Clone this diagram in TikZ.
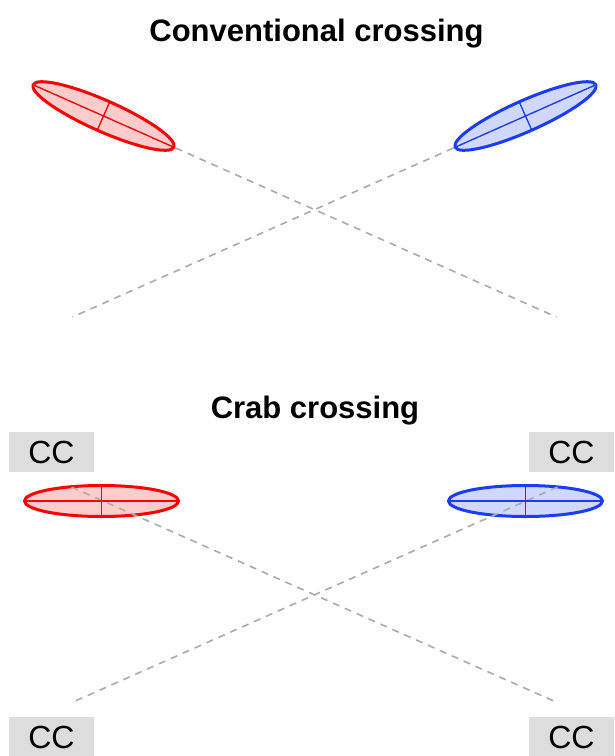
\documentclass[tikz,border=0pt]{standalone}
\usepackage{fontspec}
\setmainfont{Liberation Sans}
\usepackage{tikz}
\usetikzlibrary{shapes.geometric}
\definecolor{beam-red}{HTML}{FF0000}
\definecolor{beam-blue}{HTML}{1A3CFF}
\definecolor{orbit-grey}{HTML}{ABABAB}
\definecolor{cc-grey}{HTML}{DDDDDD}

\begin{document}
\begin{tikzpicture}[x=1pt, y=-1pt,
    bunch/.style={ellipse, draw=#1, fill=#1!20, line width=3pt, minimum width=154pt, minimum height=31pt, inner sep=0pt, outer sep=0pt},
    axisline/.style={#1, line width=1.3pt},
    orbit/.style={orbit-grey, line width=1.6pt, dash pattern=on 7pt off 6pt},
    ccbox/.style={fill=cc-grey, minimum width=85pt, minimum height=40pt, inner sep=0pt, font=\fontsize{32}{32}\selectfont},
    title/.style={anchor=base, font=\fontsize{31}{31}\selectfont\bfseries}]

    \useasboundingbox[fill=white] (0,0) rectangle (615,756);

    % titles
    \node[title] (conv) at (316.5,41) {Conventional crossing};
    \node[title] (crab) at (315,418) {Crab crossing};

    % conventional crossing: tilted bunches
    \node[bunch=beam-red, rotate=-23.93] (rt) at (103.5,116) {};
    \node[bunch=beam-blue, rotate=23.93] (bt) at (525.5,116) {};
    \coordinate (rt-end) at (556.5,317);
    \coordinate (bt-end) at (72.5,317);
    \draw[orbit] (rt.west) -- (rt-end);
    \draw[orbit] (bt.east) -- (bt-end);
    \draw[axisline=beam-red] (rt.west) -- (rt.east) (rt.north) -- (rt.south);
    \draw[axisline=beam-blue] (bt.west) -- (bt.east) (bt.north) -- (bt.south);

    % crab crossing: flat bunches
    \node[bunch=beam-red] (rb) at (101.5,501) {};
    \node[bunch=beam-blue] (bb) at (525.5,501) {};
    \coordinate (rb-start) at (71.5,487);
    \coordinate (rb-end) at (556,702);
    \coordinate (bb-start) at (557.5,487);
    \coordinate (bb-end) at (73,702);
    \draw[orbit] (rb-start) -- (rb-end);
    \draw[orbit] (bb-start) -- (bb-end);
    \draw[axisline=beam-red] (rb.west) -- (rb.east) (rb.north) -- (rb.south);
    \draw[axisline=beam-blue] (bb.west) -- (bb.east) (bb.north) -- (bb.south);

    % crab cavities
    \node[ccbox] (cc-tl) at (51.5,452) {CC};
    \node[ccbox] (cc-tr) at (571.5,452) {CC};
    \node[ccbox] (cc-bl) at (51.5,737) {CC};
    \node[ccbox] (cc-br) at (571.5,737) {CC};

\end{tikzpicture}
\end{document}
